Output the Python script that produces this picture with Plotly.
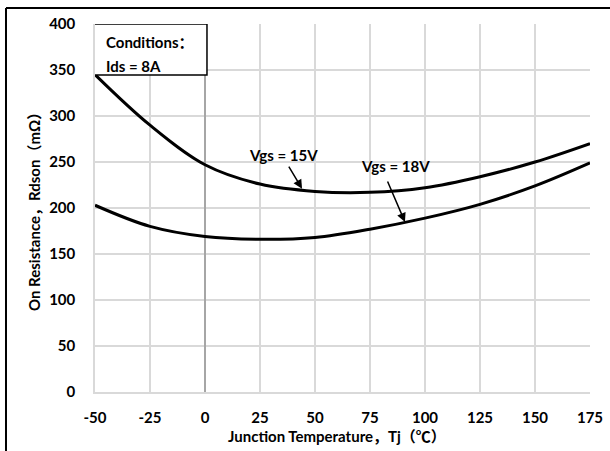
import plotly.graph_objects as go

temps = [-50, -25, 0, 25, 50, 75, 100, 125, 150, 175]
rds_15v = [345, 290, 247, 226, 218, 217, 222, 234, 250, 270]
rds_18v = [203, 180, 169, 166, 168, 177, 189, 204, 224, 249]
x_ticks = [-50, -25, 0, 25, 50, 75, 100, 125, 150, 175]
x_tick_labels = ["-50", "-25", "0", "25", "50", "75", "100", "125", "150", "175"]
y_ticks = [0, 50, 100, 150, 200, 250, 300, 350, 400]

FONT = "Lato, 'Noto Sans CJK SC', sans-serif"
tickfont = dict(family=FONT, size=15, color="black", weight="bold")

fig = go.Figure()
fig.add_trace(go.Scatter(x=temps, y=rds_15v, mode="lines", line=dict(color="black", width=3, shape="spline"), name="Vgs = 15V"))
fig.add_trace(go.Scatter(x=temps, y=rds_18v, mode="lines", line=dict(color="black", width=3, shape="spline"), name="Vgs = 18V"))

fig.update_layout(
    width=610, height=451,
    margin=dict(l=95, r=20, t=24, b=59, autoexpand=False),
    paper_bgcolor="white", plot_bgcolor="white",
    showlegend=False,
    xaxis=dict(range=[-50, 175], tickvals=x_ticks, ticktext=x_tick_labels, showgrid=True,
               gridcolor="#d9d9d9", gridwidth=1.5,
               zeroline=True, zerolinecolor="#a6a6a6", zerolinewidth=1.5,
               showline=True, linecolor="#d9d9d9", linewidth=1.5, ticks="", tickfont=tickfont,
               ticklabelstandoff=11, automargin=False),
    yaxis=dict(range=[0, 400], tickvals=y_ticks, showgrid=True, gridcolor="#d9d9d9", gridwidth=1.5,
               zeroline=False, showline=True, linecolor="#d9d9d9", linewidth=1.5, ticks="",
               tickfont=tickfont, ticklabelstandoff=15, automargin=False),
)

# outer frame (top and left edges visible)
fig.add_shape(type="line", xref="paper", yref="paper", x0=-0.1798, x1=1.1, y0=1.0435, y1=1.0435,
              line=dict(color="black", width=2), layer="above")
fig.add_shape(type="line", xref="paper", yref="paper", x0=-0.1798, x1=-0.1798, y0=-0.2, y1=1.0435,
              line=dict(color="black", width=2), layer="above")

# conditions box
fig.add_shape(type="rect", xref="x", yref="y", x0=-50.5, x1=0.9, y0=344.6, y1=400,
              line=dict(color="black", width=1.5), fillcolor="white", layer="above")
fig.add_annotation(x=-46, y=380, xref="x", yref="y", text="Conditions：", showarrow=False,
                   xanchor="left", font=tickfont)
fig.add_annotation(x=-46, y=354, xref="x", yref="y", text="Ids = 8A", showarrow=False,
                   xanchor="left", font=tickfont)

# labels and arrows
fig.add_annotation(x=35.9, y=257.6, text="Vgs = 15V", showarrow=False, font=tickfont)
fig.add_annotation(x=86.8, y=245.7, text="Vgs = 18V", showarrow=False, font=tickfont)
fig.add_annotation(x=44.1, y=221.0, ax=37.7, ay=246.7, axref="x", ayref="y", text="",
                   showarrow=True, arrowhead=2, arrowsize=1.2, arrowwidth=1.5, arrowcolor="black")
fig.add_annotation(x=90.9, y=184.8, ax=82.7, ay=230.4, axref="x", ayref="y", text="",
                   showarrow=True, arrowhead=2, arrowsize=1.2, arrowwidth=1.5, arrowcolor="black")

# axis titles
fig.add_annotation(x=(337 - 95) / 495, y=(392 - 447) / 368, xref="paper", yref="paper",
                   text="Junction Temperature，Tj（℃）", showarrow=False, font=tickfont)
fig.add_annotation(x=(23 - 95) / 495, y=(392 - 208) / 368, xref="paper", yref="paper",
                   text="On Resistance，Rdson（mΩ）", showarrow=False, textangle=-90, font=tickfont)

fig.write_html("out.html")
